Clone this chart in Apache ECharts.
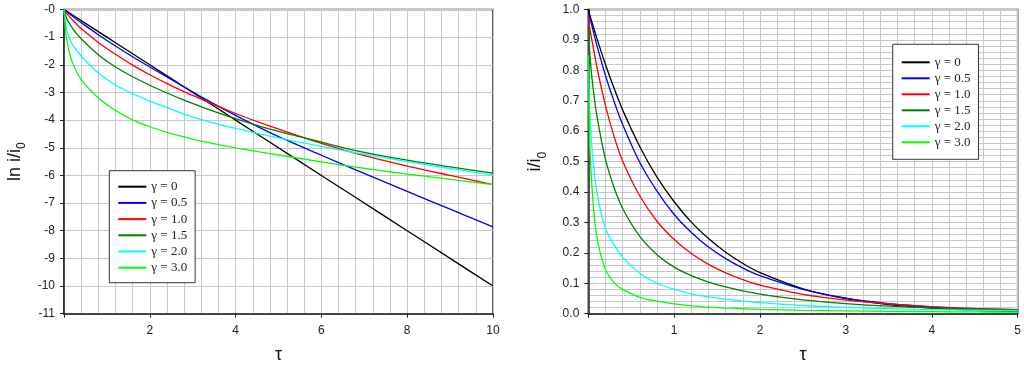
<!DOCTYPE html>
<html>
<head>
<meta charset="utf-8">
<script src="https://cdn.jsdelivr.net/npm/echarts@6/dist/echarts.min.js"></script>
<style>
html,body{margin:0;padding:0;background:#fff;}
#chart{width:1024px;height:369px;}
</style>
</head>
<body>
<div id="chart"></div>
<script>
// ---------- data ----------
const seriesNames = ['γ = 0', 'γ = 0.5', 'γ = 1.0', 'γ = 1.5', 'γ = 2.0', 'γ = 3.0'];
const seriesColors = ['#000000', '#0000ff', '#ff0000', '#008000', '#00ffff', '#00ff00'];

// Left panel: ln i/i0 versus tau
const tauL = [0, 0.05, 0.1, 0.2, 0.4, 0.8, 1.2, 1.6, 2, 2.4, 2.8, 3.2, 4, 4.8, 6, 6.8, 8, 9, 10];
const lnG00 = [0, -0.05, -0.1, -0.2, -0.4, -0.8, -1.2, -1.6, -2, -2.4, -2.8, -3.2, -4, -4.8, -6, -6.8, -8, -9, -10];
const lnG05 = [0, -0.065, -0.125, -0.245, -0.475, -0.91, -1.32, -1.71, -2.08, -2.44, -2.8, -3.16, -3.83, -4.45, -5.27, -5.80, -6.58, -7.22, -7.86];
const lnG10 = [0, -0.12, -0.21, -0.38, -0.69, -1.19, -1.62, -2.01, -2.36, -2.68, -2.97, -3.24, -3.76, -4.22, -4.84, -5.2, -5.66, -6.0, -6.33];
const lnG15 = [0, -0.28, -0.43, -0.68, -1.06, -1.64, -2.08, -2.43, -2.74, -3.02, -3.28, -3.52, -3.95, -4.33, -4.80, -5.10, -5.45, -5.69, -5.92];
const lnG20 = [0, -0.65, -0.92, -1.27, -1.68, -2.3, -2.73, -3.04, -3.31, -3.55, -3.78, -3.98, -4.3, -4.58, -4.95, -5.18, -5.5, -5.75, -5.99];
const lnG30 = [0, -0.95, -1.38, -1.93, -2.53, -3.2, -3.65, -3.99, -4.24, -4.44, -4.61, -4.76, -5.0, -5.21, -5.51, -5.7, -5.95, -6.14, -6.33];

// Right panel: i/i0 versus tau
const tauR = [0, 0.01, 0.02, 0.05, 0.1, 0.2, 0.3, 0.4, 0.6, 0.8, 1.0, 1.2, 1.4, 1.6, 1.8, 2.0, 2.5, 3, 3.5, 4, 4.5, 5];
const iG00 = [1, 0.990, 0.980, 0.951, 0.905, 0.819, 0.741, 0.670, 0.549, 0.449, 0.368, 0.301, 0.247, 0.202, 0.165, 0.135, 0.082, 0.050, 0.030, 0.018, 0.011, 0.007];
const iG05 = [0.99, 0.98, 0.97, 0.937, 0.882, 0.783, 0.698, 0.622, 0.497, 0.403, 0.326, 0.267, 0.219, 0.181, 0.150, 0.125, 0.080, 0.051, 0.033, 0.022, 0.0147, 0.010];
const iG10 = [0.98, 0.951, 0.932, 0.887, 0.811, 0.684, 0.583, 0.502, 0.387, 0.304, 0.244, 0.198, 0.162, 0.134, 0.112, 0.094, 0.0636, 0.0446, 0.032, 0.0233, 0.0174, 0.0133];
const iG15 = [0.95, 0.887, 0.844, 0.756, 0.651, 0.507, 0.415, 0.346, 0.254, 0.194, 0.153, 0.125, 0.104, 0.088, 0.075, 0.0646, 0.0455, 0.0334, 0.0247, 0.0193, 0.0152, 0.0122];
const iG20 = [0.85, 0.72, 0.645, 0.52, 0.40, 0.28, 0.226, 0.186, 0.133, 0.100, 0.080, 0.065, 0.055, 0.048, 0.0416, 0.0365, 0.027, 0.0206, 0.0169, 0.0136, 0.0113, 0.0097];
const iG30 = [0.85, 0.638, 0.538, 0.387, 0.252, 0.145, 0.102, 0.080, 0.054, 0.041, 0.0324, 0.026, 0.0217, 0.0185, 0.0162, 0.0144, 0.0111, 0.0092, 0.0079, 0.0067, 0.0059, 0.0052];

// Tick labels
const yTicksL = ['-0', '-1', '-2', '-3', '-4', '-5', '-6', '-7', '-8', '-9', '-10', '-11'];
const xTicksL = ['', '2', '4', '6', '8', '10'];
const yTicksR = ['0.0', '0.1', '0.2', '0.3', '0.4', '0.5', '0.6', '0.7', '0.8', '0.9', '1.0'];
const xTicksR = ['', '1', '2', '3', '4', '5'];

// ---------- chart ----------
const leftSets = [lnG00, lnG05, lnG10, lnG15, lnG20, lnG30];
const rightSets = [iG00, iG05, iG10, iG15, iG20, iG30];

const gridLine = { show: true, lineStyle: { color: '#c8c8c8', width: 1 } };
const axisLine = { show: true, onZero: false, lineStyle: { color: '#222', width: 1.5 } };
const axisTick = { show: true, inside: false, length: 4, lineStyle: { color: '#222', width: 1 } };
const labelFont = { fontFamily: 'Liberation Sans, Arial, sans-serif', fontSize: 12, color: '#222' };
const nameFont = {
  fontFamily: 'Liberation Sans, Arial, sans-serif', fontSize: 18, color: '#111', lineHeight: 26,
  rich: { sub: { fontFamily: 'Liberation Sans, Arial, sans-serif', fontSize: 12, lineHeight: 14, verticalAlign: 'bottom', color: '#111' } }
};

function mkLegend(left, top, gap, pad) {
  return {
    data: seriesNames, orient: 'vertical', left: left, top: top,
    backgroundColor: '#fff', borderColor: '#333', borderWidth: 1,
    padding: pad, itemWidth: 28, itemHeight: 2, itemGap: gap, icon: 'rect',
    selectedMode: false,
    textStyle: { fontFamily: 'Liberation Serif, Times New Roman, serif', fontSize: 13, color: '#222', lineHeight: 14 }
  };
}

const series = [];
seriesNames.forEach((n, k) => {
  series.push({
    name: n, type: 'line', xAxisIndex: 0, yAxisIndex: 0,
    data: tauL.map((t, i) => [t, leftSets[k][i]]),
    showSymbol: false, symbol: 'none', smooth: 0.3,
    color: seriesColors[k], lineStyle: { width: 1.3, color: seriesColors[k] }, z: 3 + k
  });
  series.push({
    name: n, type: 'line', xAxisIndex: 1, yAxisIndex: 1,
    data: tauR.map((t, i) => [t, rightSets[k][i]]),
    showSymbol: false, symbol: 'none', smooth: 0.3,
    color: seriesColors[k], lineStyle: { width: 1.3, color: seriesColors[k] }, z: 3 + k
  });
});

const option = {
  animation: false,
  backgroundColor: '#fff',
  grid: [
    { left: 64, top: 9.5, width: 429, height: 304.2, show: true, borderColor: '#222', borderWidth: 1.5, backgroundColor: 'transparent' },
    { left: 588.3, top: 9.5, width: 429.4, height: 304.2, show: true, borderColor: '#222', borderWidth: 1.5, backgroundColor: 'transparent' }
  ],
  legend: [mkLegend(109.3, 170.7, 2.2, [9, 8, 8, 9]), mkLegend(892.7, 44.3, 2.0, [11, 8, 10, 9])],
  xAxis: [
    {
      type: 'value', gridIndex: 0, min: 0, max: 10, interval: 2,
      name: 'τ', nameLocation: 'middle', nameGap: 32, nameTextStyle: { fontFamily: 'Liberation Sans, Arial, sans-serif', fontSize: 18, color: '#111' },
      axisLine: axisLine, axisTick: axisTick,
      axisLabel: Object.assign({ margin: 11, formatter: v => xTicksL[Math.round(v / 2)] }, labelFont),
      splitLine: gridLine, minorTick: { show: false, splitNumber: 5 }, minorSplitLine: gridLine
    },
    {
      type: 'value', gridIndex: 1, min: 0, max: 5, interval: 1,
      name: 'τ', nameLocation: 'middle', nameGap: 32, nameTextStyle: { fontFamily: 'Liberation Sans, Arial, sans-serif', fontSize: 18, color: '#111' },
      axisLine: axisLine, axisTick: axisTick,
      axisLabel: Object.assign({ margin: 11, formatter: v => xTicksR[Math.round(v)] }, labelFont),
      splitLine: gridLine, minorTick: { show: false, splitNumber: 5 }, minorSplitLine: gridLine
    }
  ],
  yAxis: [
    {
      type: 'value', gridIndex: 0, min: -11, max: 0, interval: 1,
      name: 'ln i/i{sub|0}', nameLocation: 'middle', nameGap: 36, nameTextStyle: nameFont,
      axisLine: axisLine, axisTick: axisTick,
      axisLabel: Object.assign({ margin: 9, formatter: v => yTicksL[Math.round(-v)] }, labelFont),
      splitLine: gridLine
    },
    {
      type: 'value', gridIndex: 1, min: 0, max: 1, interval: 0.1,
      name: 'i/i{sub|0}', nameLocation: 'middle', nameGap: 40, nameTextStyle: nameFont,
      axisLine: axisLine, axisTick: axisTick,
      axisLabel: Object.assign({ margin: 9, formatter: v => yTicksR[Math.round(v * 10)] }, labelFont),
      splitLine: gridLine, minorTick: { show: false, splitNumber: 5 }, minorSplitLine: gridLine
    }
  ],
  series: series
};

const chart = echarts.init(document.getElementById('chart'), null, { renderer: 'canvas' });
chart.setOption(option);
</script>
</body>
</html>
